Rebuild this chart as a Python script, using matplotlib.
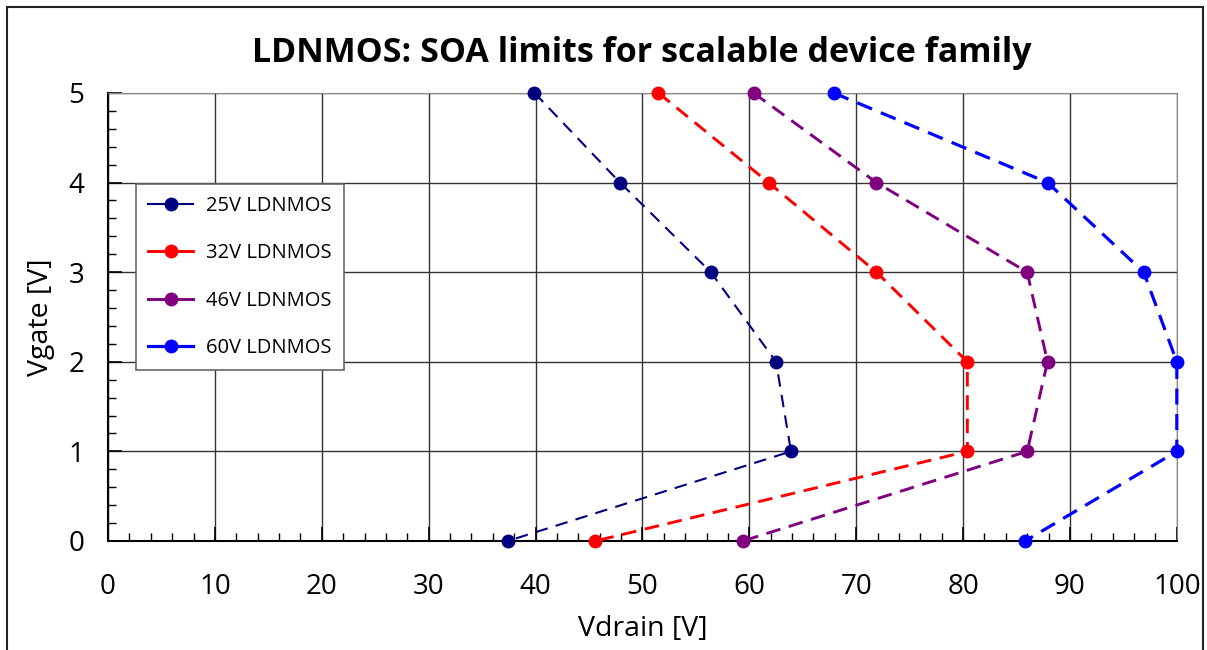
"""
LDNMOS SOA limits, Vgate vs Vdrain for the scalable device family
"""
import numpy as np
import matplotlib
matplotlib.use("Agg")
import matplotlib.pyplot as plt
from matplotlib.patches import Rectangle
from matplotlib.ticker import MultipleLocator

#### Data
vgate = [5, 4, 3, 2, 1, 0]

vd_25 = [39.9, 47.9, 56.4, 62.5, 63.9, 37.4]
vd_32 = [51.5, 61.8, 71.9, 80.4, 80.4, 45.6]
vd_46 = [60.4, 71.9, 86.0, 87.9, 86.0, 59.4]
vd_60 = [67.9, 87.9, 96.9, 100.0, 100.0, 85.8]

labels = ["25V LDNMOS", "32V LDNMOS", "46V LDNMOS", "60V LDNMOS"]
colors = ["#000080", "#FF0000", "#800080", "#0000FF"]

plt.rcParams['font.family'] = ['Open Sans', 'DejaVu Sans']

fig = plt.figure(figsize=(12.07, 6.5), dpi=100)
ax = fig.add_axes([0.0895, 0.1677, 0.8855, 0.6893])

#outer frame around the whole chart
fig.patches.append(Rectangle((7/1207, -0.05), 1196/1207, 1.05 - 7/650,
                             transform=fig.transFigure, fill=False,
                             edgecolor="#222222", linewidth=1.5))

series = [vd_25, vd_32, vd_46, vd_60]
widths = [1.5, 2.1, 2.1, 2.3]
dashes = [(6, 4), (5, 3), (5, 3), (5, 3)]
for vd, lab, col, lw, ds in zip(series, labels, colors, widths, dashes):
    ax.plot(vd, vgate, color=col, linewidth=lw, dashes=ds, marker='o',
            markersize=9, label=lab, clip_on=False, zorder=3)

ax.set_xlim(0, 100)
ax.set_ylim(0, 5)
ax.xaxis.set_major_locator(MultipleLocator(10))
ax.xaxis.set_minor_locator(MultipleLocator(2))
ax.yaxis.set_major_locator(MultipleLocator(1))
ax.yaxis.set_minor_locator(MultipleLocator(0.2))

ax.grid(True, which='major', color='#333333', linewidth=1.0)
ax.tick_params(which='both', direction='in', top=False, right=False)
ax.tick_params(which='major', length=10, width=1.2, labelsize=20)
ax.tick_params(axis='x', which='major', pad=23)
ax.tick_params(axis='y', which='major', pad=17)
ax.tick_params(which='minor', length=6, width=1.0)

for side in ['top', 'right']:
    ax.spines[side].set_color('#888888')
for side in ['left', 'bottom']:
    ax.spines[side].set_linewidth(1.5)

ax.set_xlabel("Vdrain [V]", fontsize=20.5, labelpad=10)
ax.set_ylabel("Vgate [V]", fontsize=20.5, labelpad=10)
fig.text(0.5315, 0.918, "LDNMOS: SOA limits for scalable device family",
         ha='center', va='center', fontsize=24.5, fontweight='bold')

leg = ax.legend(loc='upper left', bbox_to_anchor=(0.0262, 0.797), fontsize=14.5,
                fancybox=False, edgecolor='#666666', framealpha=1,
                labelspacing=1.36, borderpad=0.6, handlelength=2.25,
                handletextpad=0.63, borderaxespad=0)
leg.get_frame().set_linewidth(1.2)
#legend handles are drawn as solid lines
for line in leg.get_lines():
    line.set_linestyle('-')

fig.savefig("out.png", dpi=100)
